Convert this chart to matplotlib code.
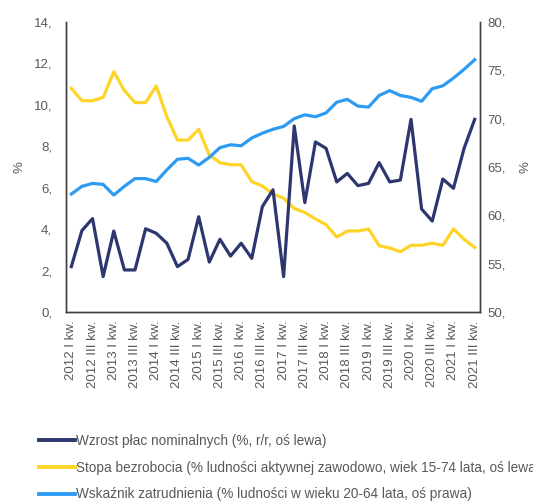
import matplotlib
matplotlib.use("Agg")
import matplotlib.pyplot as plt
from matplotlib.lines import Line2D

plt.rcParams['font.family'] = ['Liberation Sans', 'DejaVu Sans']

# quarters 2012 I kw. .. 2021 III kw.
years = [y for y in range(2012, 2022) for _ in range(4)][:39]
quarters = ['I', 'II', 'III', 'IV'] * 10
labels = [f"{y} {q} kw." for y, q in zip(years, quarters[:39])]

wages = [2.19, 3.93, 4.51, 1.71, 3.91, 2.03, 2.03, 4.02, 3.80, 3.32,
         2.19, 2.54, 4.60, 2.41, 3.51, 2.70, 3.32, 2.59, 5.09, 5.90,
         1.71, 8.98, 5.28, 8.21, 7.90, 6.28, 6.69, 6.10, 6.21, 7.21,
         6.28, 6.37, 9.30, 4.97, 4.39, 6.42, 5.97, 7.90, 9.30]
unemployment = [10.80, 10.20, 10.20, 10.36, 11.60, 10.69, 10.11, 10.11, 10.91, 9.43,
                8.30, 8.30, 8.82, 7.58, 7.21, 7.11, 7.11, 6.29, 6.08, 5.70,
                5.49, 5.00, 4.80, 4.49, 4.22, 3.62, 3.91, 3.91, 4.01, 3.20,
                3.09, 2.91, 3.22, 3.22, 3.32, 3.22, 4.01, 3.51, 3.11]
employment = [62.2, 63.0, 63.3, 63.2, 62.1, 63.0, 63.8, 63.8, 63.5, 64.7,
              65.8, 65.9, 65.2, 66.0, 67.0, 67.3, 67.2, 68.0, 68.5, 68.9,
              69.2, 70.0, 70.4, 70.2, 70.6, 71.7, 72.0, 71.3, 71.2, 72.4,
              72.9, 72.4, 72.2, 71.8, 73.1, 73.4, 74.2, 75.1, 76.1]

series_names = [
    "Wzrost płac nominalnych (%, r/r, oś lewa)",
    "Stopa bezrobocia (% ludności aktywnej zawodowo, wiek 15-74 lata, oś lewa)",
    "Wskaźnik zatrudnienia (% ludności w wieku 20-64 lata, oś prawa)",
]
colors = ["#2E3670", "#FFD428", "#2E9BF3"]
gray = "#595959"

fig = plt.figure(figsize=(5.33, 5.01), dpi=100, facecolor='white')
ax = fig.add_axes([66 / 533, 1 - 312 / 501, 414 / 533, 290 / 501])
ax2 = ax.twinx()

x = list(range(len(labels)))
ax.plot(x, wages, color=colors[0], lw=2.3, zorder=3)
ax.plot(x, unemployment, color=colors[1], lw=2.3, zorder=2)
ax2.plot(x, employment, color=colors[2], lw=2.3, zorder=1)

ax.set_xlim(-0.5, len(labels) - 0.5)
ax.set_ylim(0, 14)
ax2.set_ylim(50, 80)

ax.set_yticks(range(0, 15, 2))
ax.set_yticklabels([f"{v}," for v in range(0, 15, 2)])
ax2.set_yticks(range(50, 81, 5))
ax2.set_yticklabels([f"{v}," for v in range(50, 81, 5)])

ax.set_xticks(x[::2])
ax.set_xticklabels(labels[::2], rotation=90)

for a in (ax, ax2):
    a.tick_params(length=0, colors=gray, labelsize=9.5)
    a.spines['top'].set_visible(False)
    for s in ('left', 'right', 'bottom'):
        a.spines[s].set_color('#404040')
        a.spines[s].set_linewidth(1.0)
ax.tick_params(axis='y', pad=10)
ax2.tick_params(axis='y', pad=5)
ax.tick_params(axis='x', pad=6)

ax.set_ylabel('%', color=gray, fontsize=9.5, labelpad=6)
ax2.set_ylabel('%', color=gray, fontsize=9.5, labelpad=10)

handles = [Line2D([0], [0], color=c, lw=2.8) for c in colors]
fig.legend(handles, series_names, loc='upper left',
           bbox_to_anchor=(39 / 533, 1 - 434 / 501), frameon=False,
           fontsize=9.8, labelcolor=gray, handlelength=2.65,
           handletextpad=0.05, labelspacing=0.93, borderaxespad=0, borderpad=0)

fig.savefig("out.png", dpi=100, facecolor='white')
